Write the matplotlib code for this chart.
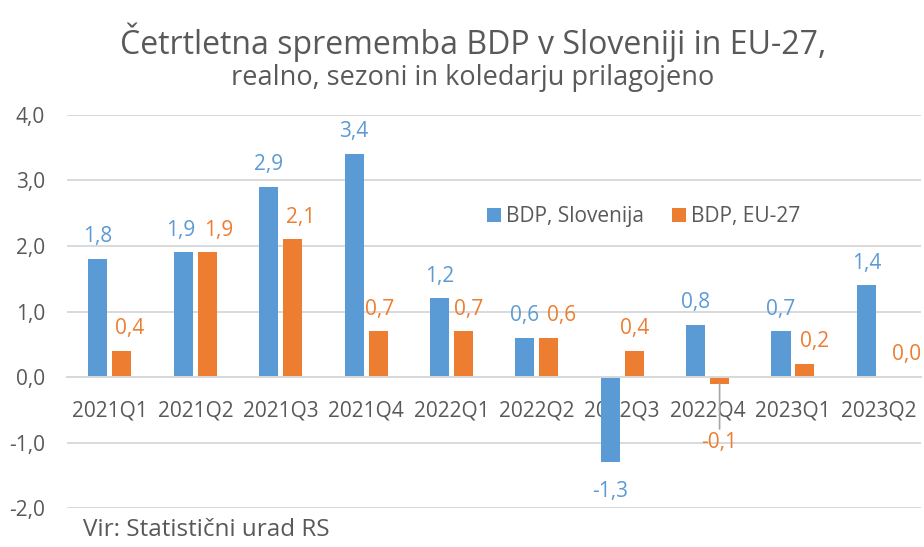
import numpy as np
import matplotlib.pyplot as plt

plt.rcParams['font.family'] = ['Open Sans', 'DejaVu Sans']

quarters = ['2021Q1', '2021Q2', '2021Q3', '2021Q4', '2022Q1',
            '2022Q2', '2022Q3', '2022Q4', '2023Q1', '2023Q2']
slo = [1.8, 1.9, 2.9, 3.4, 1.2, 0.6, -1.3, 0.8, 0.7, 1.4]
eu = [0.4, 1.9, 2.1, 0.7, 0.7, 0.6, 0.4, -0.1, 0.2, 0.0]
yticks = [-2, -1, 0, 1, 2, 3, 4]

# small horizontal nudges of the value labels (pixels), as in the original
slo_dx = [0, -3, 0, 0, 0, 0, 0, 0, 0, 0]
eu_dx = [8, 11, 7.5, 2, 5, 13, 0, 0, 10, 16]

blue = '#5B9BD5'
orange = '#ED7D31'
grey = '#595959'

fig = plt.figure(figsize=(9.24, 5.47), dpi=100)
ax = fig.add_axes([0.0728, 0.0707, 0.924, 0.7196])

x = np.arange(len(quarters))
w = 0.223
off = 0.1405
ax.bar(x - off, slo, w, color=blue, label='BDP, Slovenija', zorder=2)
ax.bar(x + off, eu, w, color=orange, label='BDP, EU-27', zorder=2)

ax.set_xlim(-0.5, len(quarters) - 0.5)
ax.set_ylim(-2, 4)
ax.set_yticks(yticks)
ax.set_yticklabels([f'{v:.1f}'.replace('.', ',') for v in yticks])
ax.yaxis.grid(True, color='#D9D9D9', linewidth=1.4)
ax.set_axisbelow(True)

ax.spines['bottom'].set_position(('data', 0))
ax.spines['bottom'].set_color('#D9D9D9')
ax.spines['bottom'].set_linewidth(1.4)
for s in ['top', 'right', 'left']:
    ax.spines[s].set_visible(False)
ax.set_xticks(x)
ax.set_xticklabels(quarters)
ax.tick_params(axis='x', length=0, pad=16.5, labelsize=15, labelcolor=grey)
ax.tick_params(axis='y', length=0, pad=16, labelsize=15, labelcolor=grey)


def lab(v):
    return f'{v:.1f}'.replace('.', ',')


px = 0.72  # points per pixel at 100 dpi

for xi, v, dx in zip(x - off, slo, slo_dx):
    dy = 12 if v >= 0 else -25
    ax.annotate(lab(v), (xi, v), xytext=(dx * px, dy), textcoords='offset points',
                ha='center', va='baseline', fontsize=15, color=blue,
                annotation_clip=False)

for xi, v, dx in zip(x + off, eu, eu_dx):
    if v < 0:
        # label moved down with a leader line
        ax.annotate(lab(v), (xi, v), xytext=(xi, -1.076), textcoords='data',
                    ha='center', va='baseline', fontsize=15, color=orange,
                    arrowprops=dict(arrowstyle='-', color='#A6A6A6', lw=1.2,
                                    shrinkA=0, shrinkB=0))
    else:
        ax.annotate(lab(v), (xi, v), xytext=(dx * px, 12), textcoords='offset points',
                    ha='center', va='baseline', fontsize=15, color=orange,
                    annotation_clip=False)

ax.legend(loc='center left', bbox_to_anchor=(0.4916, 0.741), ncol=2,
          frameon=False, fontsize=15, handlelength=0.65, handleheight=0.65,
          handletextpad=0.27, columnspacing=1.35, borderpad=0, borderaxespad=0,
          labelcolor=grey)

fig.text(0.512, 0.923, 'Četrtletna sprememba BDP v Sloveniji in EU-27,',
         ha='center', va='center', fontsize=23, color=grey)
fig.text(0.512, 0.857, 'realno, sezoni in koledarju prilagojeno',
         ha='center', va='center', fontsize=19.5, color=grey)
fig.text(83 / 924, 0.031, 'Vir: Statistični urad RS', ha='left', va='center',
         fontsize=17.5, color=grey)

plt.savefig('out.png', dpi=100)
